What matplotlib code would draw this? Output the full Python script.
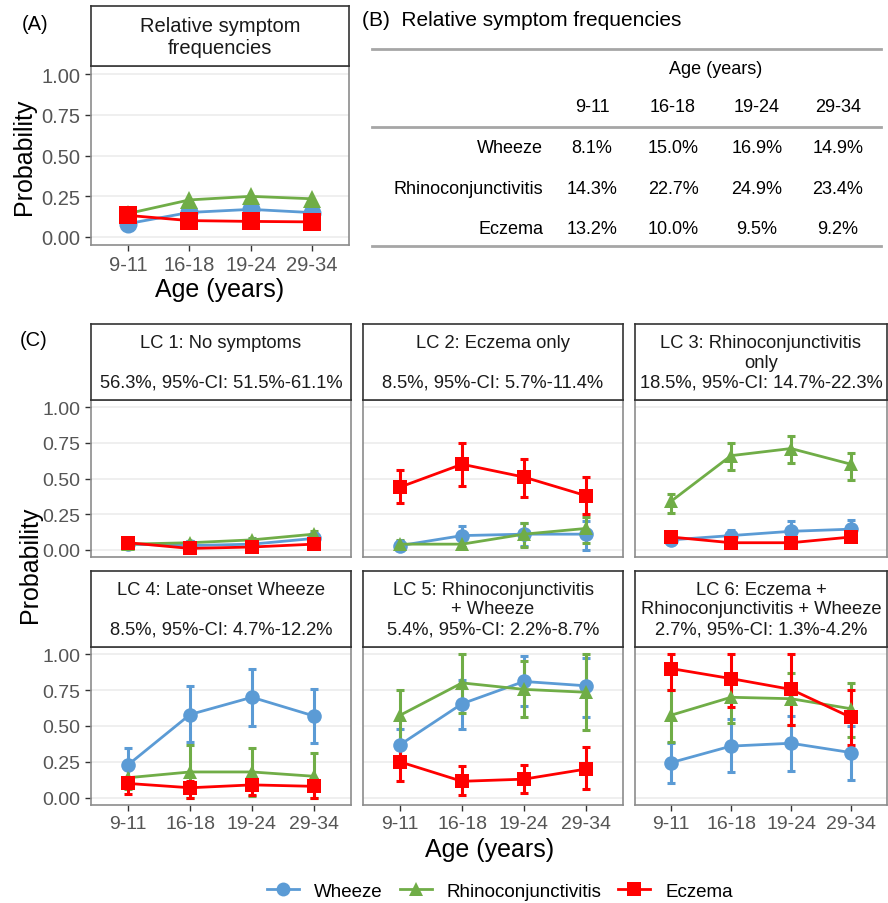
import numpy as np
import matplotlib
matplotlib.use("Agg")
import matplotlib.pyplot as plt
from matplotlib.lines import Line2D

plt.rcParams["font.family"] = ["Liberation Sans", "DejaVu Sans"]

ages = ["9-11", "16-18", "19-24", "29-34"]
symptoms = ["Wheeze", "Rhinoconjunctivitis", "Eczema"]

# panel A / table B: relative symptom frequencies (%)
rel_wheeze = [8.1, 15.0, 16.9, 14.9]
rel_rhino = [14.3, 22.7, 24.9, 23.4]
rel_eczema = [13.2, 10.0, 9.5, 9.2]

# latent classes: titles
lc_titles = [
    "LC 1: No symptoms\n\n56.3%, 95%-CI: 51.5%-61.1%",
    "LC 2: Eczema only\n\n8.5%, 95%-CI: 5.7%-11.4%",
    "LC 3: Rhinoconjunctivitis\nonly\n18.5%, 95%-CI: 14.7%-22.3%",
    "LC 4: Late-onset Wheeze\n\n8.5%, 95%-CI: 4.7%-12.2%",
    "LC 5: Rhinoconjunctivitis\n+ Wheeze\n5.4%, 95%-CI: 2.2%-8.7%",
    "LC 6: Eczema +\nRhinoconjunctivitis + Wheeze\n2.7%, 95%-CI: 1.3%-4.2%",
]

# estimates (probabilities) per class: wheeze, rhino, eczema
lc_wheeze = [
    [0.04, 0.03, 0.04, 0.08],
    [0.03, 0.10, 0.11, 0.11],
    [0.07, 0.10, 0.13, 0.145],
    [0.23, 0.58, 0.70, 0.57],
    [0.37, 0.655, 0.81, 0.78],
    [0.245, 0.36, 0.38, 0.315],
]
lc_wheeze_lo = [
    [0.03, 0.02, 0.03, 0.06],
    [0.00, 0.02, 0.03, 0.00],
    [0.05, 0.05, 0.06, 0.07],
    [0.12, 0.39, 0.50, 0.38],
    [0.26, 0.48, 0.64, 0.56],
    [0.10, 0.18, 0.19, 0.125],
]
lc_wheeze_hi = [
    [0.05, 0.04, 0.05, 0.10],
    [0.06, 0.17, 0.19, 0.20],
    [0.09, 0.14, 0.20, 0.21],
    [0.35, 0.78, 0.90, 0.76],
    [0.48, 0.82, 0.99, 0.97],
    [0.38, 0.55, 0.57, 0.50],
]
lc_rhino = [
    [0.04, 0.05, 0.07, 0.11],
    [0.04, 0.04, 0.11, 0.15],
    [0.34, 0.66, 0.71, 0.60],
    [0.14, 0.18, 0.18, 0.15],
    [0.575, 0.80, 0.755, 0.735],
    [0.575, 0.70, 0.69, 0.62],
]
lc_rhino_lo = [
    [0.03, 0.04, 0.06, 0.09],
    [0.02, 0.02, 0.02, 0.05],
    [0.26, 0.56, 0.61, 0.49],
    [0.06, 0.00, 0.01, 0.00],
    [0.39, 0.59, 0.565, 0.47],
    [0.39, 0.52, 0.51, 0.42],
]
lc_rhino_hi = [
    [0.05, 0.06, 0.08, 0.13],
    [0.07, 0.07, 0.19, 0.23],
    [0.39, 0.75, 0.80, 0.68],
    [0.22, 0.365, 0.35, 0.31],
    [0.75, 1.00, 0.95, 1.00],
    [0.75, 0.85, 0.87, 0.80],
]
lc_eczema = [
    [0.05, 0.01, 0.02, 0.04],
    [0.44, 0.60, 0.51, 0.38],
    [0.09, 0.05, 0.05, 0.09],
    [0.10, 0.07, 0.09, 0.08],
    [0.25, 0.115, 0.13, 0.20],
    [0.90, 0.83, 0.755, 0.56],
]
lc_eczema_lo = [
    [0.04, 0.00, 0.01, 0.03],
    [0.33, 0.45, 0.37, 0.25],
    [0.07, 0.03, 0.03, 0.07],
    [0.03, 0.00, 0.02, 0.00],
    [0.115, 0.02, 0.035, 0.06],
    [0.75, 0.63, 0.51, 0.37],
]
lc_eczema_hi = [
    [0.06, 0.02, 0.03, 0.05],
    [0.56, 0.75, 0.64, 0.51],
    [0.11, 0.07, 0.07, 0.11],
    [0.14, 0.12, 0.13, 0.13],
    [0.36, 0.22, 0.23, 0.355],
    [1.00, 1.00, 1.00, 0.75],
]

colors = {"Wheeze": "#5B9BD5", "Rhinoconjunctivitis": "#70AD47", "Eczema": "#FF0000"}
markers = {"Wheeze": "o", "Rhinoconjunctivitis": "^", "Eczema": "s"}

W, H = 888, 904
fig = plt.figure(figsize=(W / 100, H / 100), dpi=100)


def box(x0, x1, y0, y1):
    # pixel box (top-left origin) -> figure fraction rect
    return [x0 / W, 1 - y1 / H, (x1 - x0) / W, (y1 - y0) / H]


def style_ax(ax, show_y=True, show_x=True, tsize=14):
    ax.set_xlim(0.4, 4.6)
    ax.set_ylim(-0.05, 1.05)
    ax.set_xticks(range(1, 5))
    ax.set_xticklabels(ages if show_x else [])
    ax.set_yticks([0, 0.25, 0.5, 0.75, 1.0])
    ax.set_yticklabels(["0.00", "0.25", "0.50", "0.75", "1.00"] if show_y else [])
    ax.grid(axis="y", color="#EBEBEB", lw=1.1)
    ax.set_axisbelow(True)
    for s in ax.spines.values():
        s.set_color("#8C8C8C")
        s.set_linewidth(1.2)
    ax.tick_params(colors="#333333", labelcolor="#555555", labelsize=tsize,
                   length=4, width=1)
    if not show_y:
        ax.tick_params(axis="y", length=0)
    if not show_x:
        ax.tick_params(axis="x", length=0)


def strip(x0, x1, y0, y1, text, size=13.2):
    sa = fig.add_axes(box(x0, x1, y0, y1))
    sa.set_xticks([])
    sa.set_yticks([])
    for s in sa.spines.values():
        s.set_color("#333333")
        s.set_linewidth(1.2)
    sa.text(0.5, 0.5, text, ha="center", va="center", fontsize=size,
            color="#1A1A1A", linespacing=1.2, transform=sa.transAxes)


def draw_series(ax, vals, lo=None, hi=None, name="Wheeze", ms=10.5):
    x = np.arange(1, 5)
    c = colors[name]
    if lo is not None:
        v = np.array(vals)
        ax.errorbar(x, v, yerr=[v - np.array(lo), np.array(hi) - v], fmt="none",
                    ecolor=c, elinewidth=2.2, capsize=3, capthick=2.2, zorder=2)
    ax.plot(x, vals, color=c, lw=2, marker=markers[name], ms=ms,
            markeredgewidth=0, zorder=3)


# ---- (A)
axA = fig.add_axes(box(91, 349, 67, 246))
style_ax(axA, tsize=14.5)
draw_series(axA, np.array(rel_wheeze) / 100, name="Wheeze", ms=13)
draw_series(axA, np.array(rel_rhino) / 100, name="Rhinoconjunctivitis", ms=13)
draw_series(axA, np.array(rel_eczema) / 100, name="Eczema", ms=13)
axA.set_ylabel("Probability", fontsize=18, labelpad=4)
axA.set_xlabel("Age (years)", fontsize=18, labelpad=2)
strip(91, 349, 7, 67, "Relative symptom\nfrequencies", size=14.5)
fig.text(22 / W, 1 - 24 / H, "(A)", fontsize=14.5, va="center", ha="left")

# ---- (B) table
fig.text(362 / W, 1 - 20 / H, "(B)  Relative symptom frequencies", fontsize=15,
         va="center", ha="left")
for yy in (50, 128, 247):
    fig.add_artist(Line2D([372 / W, 881 / W], [1 - yy / H] * 2, color="#A6A6A6", lw=2))
fig.text(716 / W, 1 - 70 / H, "Age (years)", fontsize=13, ha="center", va="center")
col_x = [592, 673, 757, 838]
for cx, a in zip(col_x, ages):
    fig.text(cx / W, 1 - 107 / H, a, fontsize=13, ha="center", va="center")
for ry, name, vals in zip([149, 190, 229], symptoms, [rel_wheeze, rel_rhino, rel_eczema]):
    fig.text(543 / W, 1 - ry / H, name, fontsize=13, ha="right", va="center")
    for cx, v in zip(col_x, vals):
        fig.text(cx / W, 1 - ry / H, f"{v:.1f}%", fontsize=13, ha="center", va="center")

# ---- (C) latent classes
cols = [(91, 351), (363, 623), (635, 887)]
rows = [(325, 401, 558), (572, 648, 806)]
for i in range(6):
    r, c = divmod(i, 3)
    x0, x1 = cols[c]
    st, pt, pb = rows[r]
    ax = fig.add_axes(box(x0, x1, pt, pb))
    style_ax(ax, show_y=(c == 0), show_x=(r == 1))
    draw_series(ax, lc_wheeze[i], lc_wheeze_lo[i], lc_wheeze_hi[i], "Wheeze")
    draw_series(ax, lc_rhino[i], lc_rhino_lo[i], lc_rhino_hi[i], "Rhinoconjunctivitis")
    draw_series(ax, lc_eczema[i], lc_eczema_lo[i], lc_eczema_hi[i], "Eczema")
    strip(x0, x1, st, pt, lc_titles[i])

fig.text(20 / W, 1 - 340 / H, "(C)", fontsize=14.5, va="center", ha="left")
fig.text(30 / W, 1 - 565 / H, "Probability", fontsize=18, rotation=90,
         ha="center", va="center")
fig.text(490 / W, 1 - 850 / H, "Age (years)", fontsize=18, ha="center", va="center")

handles = [Line2D([], [], color=colors[s], marker=markers[s], lw=2, ms=10,
                  markeredgewidth=0) for s in symptoms]
fig.legend(handles, symptoms, loc="center", bbox_to_anchor=(500 / W, 1 - 892 / H),
           ncol=3, frameon=False, fontsize=13.5, handlelength=1.7, columnspacing=0.9,
           handletextpad=0.8)

fig.savefig("out.png", dpi=100)
